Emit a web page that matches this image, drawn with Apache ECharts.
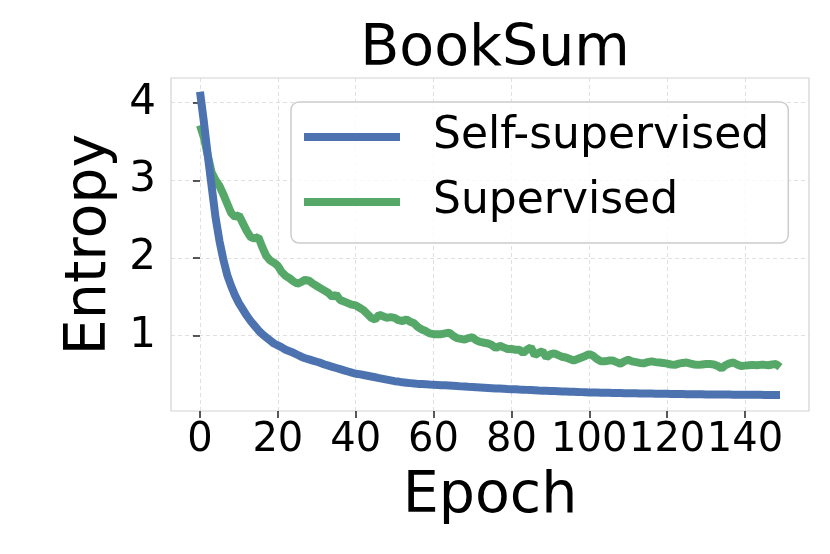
<!DOCTYPE html>
<html>
<head>
<meta charset="utf-8">
<script src="https://cdn.jsdelivr.net/npm/echarts@6/dist/echarts.min.js"></script>
<style>html,body{margin:0;padding:0;background:#fff}#c{width:830px;height:554px}</style>
</head>
<body>
<div id="c"></div>
<script>
const titleText = "BookSum";
const xName = "Epoch";
const yName = "Entropy";
const seriesNames = ["Self-supervised", "Supervised"];
const xTicks = [0, 20, 40, 60, 80, 100, 120, 140];
const yTicks = [1, 2, 3, 4];

const selfSupervised = [
4.14,3.75,3.32,2.92,2.52,2.22,1.98,1.78,1.64,1.52,
1.42,1.34,1.26,1.19,1.13,1.07,1.02,0.98,0.94,0.90,
0.875,0.85,0.82,0.80,0.78,0.755,0.73,0.71,0.695,0.68,
0.665,0.65,0.63,0.615,0.60,0.585,0.57,0.555,0.54,0.525,
0.51,0.505,0.495,0.485,0.475,0.465,0.455,0.445,0.435,0.425,
0.415,0.41,0.40,0.395,0.39,0.385,0.38,0.378,0.375,0.372,
0.37,0.367,0.364,0.362,0.36,0.356,0.352,0.348,0.345,0.342,
0.34,0.337,0.334,0.331,0.328,0.325,0.322,0.32,0.317,0.314,
0.312,0.31,0.307,0.305,0.303,0.301,0.298,0.295,0.293,0.291,
0.289,0.287,0.285,0.283,0.281,0.279,0.278,0.276,0.274,0.272,
0.27,0.269,0.268,0.267,0.266,0.265,0.264,0.263,0.262,0.261,
0.26,0.259,0.258,0.257,0.257,0.256,0.255,0.254,0.253,0.253,
0.252,0.251,0.25,0.25,0.249,0.248,0.248,0.247,0.246,0.246,
0.245,0.244,0.244,0.243,0.243,0.242,0.242,0.241,0.241,0.24,
0.24,0.24,0.239,0.239,0.239,0.238,0.238,0.238,0.237,0.237
];

const supervised = [
3.71,3.55,3.32,3.10,3.00,2.93,2.82,2.70,2.58,2.53,
2.55,2.45,2.35,2.27,2.25,2.27,2.14,2.03,1.97,1.94,
1.90,1.82,1.77,1.74,1.70,1.67,1.69,1.72,1.71,1.67,
1.64,1.61,1.58,1.55,1.50,1.53,1.46,1.44,1.42,1.40,
1.39,1.36,1.33,1.28,1.23,1.21,1.27,1.25,1.23,1.24,
1.23,1.20,1.19,1.21,1.18,1.16,1.11,1.08,1.06,1.03,
1.02,1.02,1.02,1.03,1.04,1.00,0.97,0.96,0.95,0.97,
0.98,0.94,0.92,0.91,0.90,0.88,0.84,0.87,0.85,0.83,
0.83,0.82,0.82,0.78,0.82,0.85,0.75,0.78,0.80,0.72,
0.76,0.775,0.75,0.73,0.72,0.70,0.68,0.70,0.72,0.74,
0.765,0.74,0.70,0.67,0.67,0.68,0.68,0.66,0.64,0.67,
0.69,0.67,0.66,0.65,0.645,0.66,0.67,0.66,0.655,0.65,
0.64,0.63,0.625,0.64,0.65,0.655,0.64,0.63,0.625,0.63,
0.635,0.635,0.63,0.61,0.58,0.62,0.645,0.655,0.63,0.61,
0.615,0.62,0.625,0.62,0.625,0.625,0.62,0.63,0.635,0.595
];

const FONT = "DejaVu Sans";
const chart = echarts.init(document.getElementById('c'), null, {renderer: 'canvas'});
const toPairs = arr => arr.map((v, i) => [i, v]);
const gridLine = {show: true, lineStyle: {color: '#d8d8d8', width: 0.8, type: [4, 3]}};

chart.setOption({
  animation: false,
  backgroundColor: '#ffffff',
  title: {
    text: titleText, left: 490, top: 17, textAlign: 'center',
    textStyle: {fontFamily: FONT, fontSize: 57, fontWeight: 'normal', color: '#000'}
  },
  legend: {
    orient: 'vertical', left: 291, top: 102,
    data: seriesNames,
    icon: 'rect', itemWidth: 96, itemHeight: 8, itemGap: 15,
    padding: [10, 19, 16, 13],
    backgroundColor: 'rgba(255,255,255,0.8)',
    borderColor: '#cccccc', borderWidth: 1.5, borderRadius: 8,
    textStyle: {fontFamily: FONT, fontSize: 44, color: '#000', lineHeight: 50, padding: [0, 0, 0, 28]}
  },
  grid: {left: 171, top: 78, width: 638, height: 333, show: true, borderColor: '#d3d3d3', borderWidth: 1.2, containLabel: false},
  xAxis: {
    type: 'value', min: -7.45, max: 156.45,
    name: xName, nameLocation: 'middle', nameGap: 58,
    nameTextStyle: {fontFamily: FONT, fontSize: 57, color: '#000'},
    axisLine: {show: false},
    axisTick: {show: true, customValues: xTicks, length: 7, lineStyle: {color: '#222', width: 1.5}},
    axisLabel: {customValues: xTicks, fontFamily: FONT, fontSize: 40, color: '#000', margin: 10, hideOverlap: false, showMaxLabel: true, showMinLabel: true},
    splitLine: gridLine
  },
  yAxis: {
    type: 'value', min: 0.031, max: 4.318,
    name: yName, nameLocation: 'middle', nameGap: 50,
    nameTextStyle: {fontFamily: FONT, fontSize: 57, color: '#000'},
    axisLine: {show: false},
    axisTick: {show: true, customValues: yTicks, length: 7, lineStyle: {color: '#222', width: 1.5}},
    axisLabel: {customValues: yTicks, fontFamily: FONT, fontSize: 42, color: '#000', margin: 15},
    splitLine: gridLine
  },
  series: [
    {name: seriesNames[0], type: 'line', data: toPairs(selfSupervised), showSymbol: false, symbol: 'none',
     lineStyle: {color: '#4c72b0', width: 8}, itemStyle: {color: '#4c72b0'}, z: 3},
    {name: seriesNames[1], type: 'line', data: toPairs(supervised), showSymbol: false, symbol: 'none',
     lineStyle: {color: '#55a868', width: 8}, itemStyle: {color: '#55a868'}, z: 2}
  ]
});
</script>
</body>
</html>
